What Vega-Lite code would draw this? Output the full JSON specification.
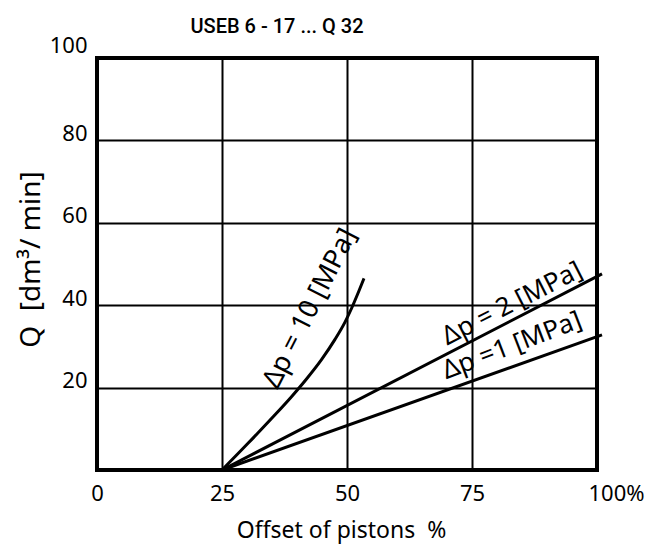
{
  "$schema": "https://vega.github.io/schema/vega-lite/v6.json",
  "width": 500,
  "height": 412,
  "autosize": {"type": "none"},
  "padding": {"left": 97, "top": 58, "right": 53, "bottom": 75},
  "background": "white",
  "title": {
    "text": "USEB 6 - 17 ... Q 32",
    "font": "Roboto",
    "fontSize": 20,
    "fontWeight": 500,
    "color": "black",
    "anchor": "middle",
    "dx": -70,
    "dy": 21,
    "baseline": "alphabetic",
    "offset": 2
  },
  "config": {
    "view": {"stroke": "black", "strokeWidth": 4},
    "axis": {
      "grid": true,
      "gridColor": "black",
      "gridWidth": 2,
      "gridOpacity": 1,
      "domain": false,
      "ticks": false,
      "labelFont": "Noto Sans",
      "labelFontSize": 22,
      "labelColor": "black",
      "labelFlush": false,
      "titleFont": "Noto Sans",
      "titleColor": "black",
      "titleFontWeight": "normal"
    }
  },
  "datasets": {
    "curves": [
      {"x": 25, "y": 0, "dp": "10"},
      {"x": 30.3, "y": 6.6, "dp": "10"},
      {"x": 34.9, "y": 12.5, "dp": "10"},
      {"x": 38.9, "y": 17.8, "dp": "10"},
      {"x": 41.9, "y": 22.1, "dp": "10"},
      {"x": 44.9, "y": 26.8, "dp": "10"},
      {"x": 47.6, "y": 31.7, "dp": "10"},
      {"x": 49.6, "y": 35.9, "dp": "10"},
      {"x": 50.9, "y": 39.2, "dp": "10"},
      {"x": 52.3, "y": 43.2, "dp": "10"},
      {"x": 53.4, "y": 46.5, "dp": "10"},
      {"x": 25, "y": 0, "dp": "2"},
      {"x": 101, "y": 47.6, "dp": "2"},
      {"x": 25, "y": 0, "dp": "1"},
      {"x": 101, "y": 32.8, "dp": "1"}
    ]
  },
  "layer": [
    {
      "data": {"name": "curves"},
      "mark": {"type": "line", "color": "black", "strokeWidth": 3, "interpolate": "monotone", "clip": false},
      "encoding": {
        "x": {
          "field": "x", "type": "quantitative",
          "scale": {"domain": [0, 100], "nice": false, "zero": false},
          "axis": {
            "values": [0, 25, 50, 75, 100],
            "labelExpr": "datum.value == 100 ? '100%' : datum.label",
            "labelPadding": 13,
            "labelOffset": {"condition": {"test": "datum.value == 100", "value": 19}, "value": 0},
            "title": "Offset of pistons\u00a0 %",
            "titleFontSize": 23,
            "titleBaseline": "alphabetic",
            "titleX": 244,
            "titleY": 67
          }
        },
        "y": {
          "field": "y", "type": "quantitative",
          "scale": {"domain": [0, 100], "nice": false, "zero": false},
          "axis": {
            "values": [0, 20, 40, 60, 80, 100],
            "labelExpr": "datum.value == 0 ? '' : datum.label",
            "labelPadding": 10,
            "labelBaseline": "alphabetic",
            "labelOffset": {"condition": {"test": "datum.value == 100", "value": -6}, "value": 0},
            "title": "Q\u00a0 [dm³/ min]",
            "titleFontSize": 28,
            "titleAngle": -90,
            "titleBaseline": "alphabetic",
            "titleAlign": "center",
            "titleX": -58,
            "titleY": 201
          }
        },
        "detail": {"field": "dp"}
      }
    },
    {
      "data": {"values": [{"x": 42.6, "y": 39.2, "label": "Δp = 10 [MPa]"}]},
      "mark": {"type": "text", "font": "Noto Sans", "fontSize": 27, "angle": -63, "align": "center", "baseline": "middle", "color": "black"},
      "encoding": {
        "x": {"field": "x", "type": "quantitative"},
        "y": {"field": "y", "type": "quantitative"},
        "text": {"field": "label"}
      }
    },
    {
      "data": {"values": [{"x": 83.0, "y": 40.4, "label": "Δp = 2 [MPa]"}]},
      "mark": {"type": "text", "font": "Noto Sans", "fontSize": 26, "angle": -27, "align": "center", "baseline": "middle", "color": "black"},
      "encoding": {
        "x": {"field": "x", "type": "quantitative"},
        "y": {"field": "y", "type": "quantitative"},
        "text": {"field": "label"}
      }
    },
    {
      "data": {"values": [{"x": 83.0, "y": 30.2, "label": "Δp =1 [MPa]"}]},
      "mark": {"type": "text", "font": "Noto Sans", "fontSize": 26, "angle": -21, "align": "center", "baseline": "middle", "color": "black"},
      "encoding": {
        "x": {"field": "x", "type": "quantitative"},
        "y": {"field": "y", "type": "quantitative"},
        "text": {"field": "label"}
      }
    }
  ]
}
